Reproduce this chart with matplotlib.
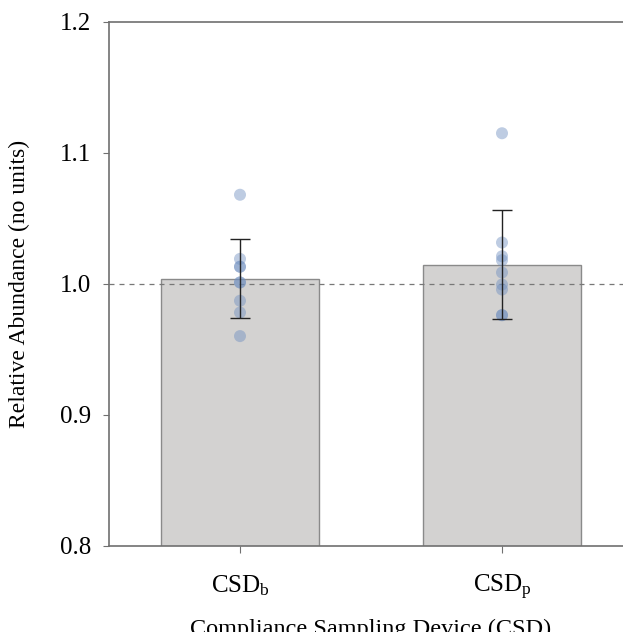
import numpy as np
import matplotlib
matplotlib.use('Agg')
import matplotlib.pyplot as plt

plt.rcParams.update({
    'font.family': 'serif', 'font.serif': ['Liberation Serif', 'DejaVu Serif'],
    'mathtext.fontset': 'custom', 'mathtext.rm': 'Liberation Serif',
    'mathtext.it': 'Liberation Serif:italic',
    'font.size': 18,
})

# data
devices = ['CSD$_\\mathregular{b}$', 'CSD$_\\mathregular{p}$']
means = [1.004, 1.0147]
sds = [0.030, 0.042]
pts_b = [1.068, 1.019, 1.013, 1.013, 1.001, 1.001, 0.987, 0.978, 0.960]
pts_p = [1.115, 1.0315, 1.021, 1.018, 1.0086, 0.9994, 0.9956, 0.976, 0.976]

fig = plt.figure(figsize=(6.23, 6.32), dpi=100)
ax = fig.add_axes([109 / 623, 1 - 545.5 / 632, 524 / 623, 523.5 / 632])

x = np.arange(len(devices))
ax.bar(x, means, width=0.6, bottom=0, color='#d3d2d1', edgecolor='#8a8a8a',
       linewidth=1.0, zorder=1)
ax.axhline(1.0, color='#777777', linestyle=(0, (4, 4)), linewidth=0.9, zorder=2)
for xi, pts in zip(x, [pts_b, pts_p]):
    ax.scatter([xi] * len(pts), pts, s=75, color='#6f8fc0', alpha=0.45,
               edgecolors='none', zorder=3)
ax.errorbar(x, means, yerr=sds, fmt='none', ecolor='#222222', elinewidth=1.0,
            capsize=7, capthick=1.0, zorder=4)

ax.set_xlim(-0.5, 1.5)
ax.set_ylim(0.8, 1.2)
ax.set_yticks([0.8, 0.9, 1.0, 1.1, 1.2])
ax.set_yticklabels(['0.8', '0.9', '1.0', '1.1', '1.2'])
ax.set_xticks(x)
ax.set_xticklabels(devices)
for side in ['left', 'bottom', 'top']:
    ax.spines[side].set_color('#707070')
    ax.spines[side].set_linewidth(1.2)
ax.spines['right'].set_visible(False)
ax.tick_params(axis='y', direction='out', length=4.5, color='#707070', pad=8.5)
ax.tick_params(axis='x', direction='out', length=5, color='#707070', pad=15)
ax.set_ylabel('Relative Abundance (no units)', fontsize=17, labelpad=21)
ax.set_xlabel('Compliance Sampling Device (CSD)', fontsize=17.5, labelpad=12)

fig.savefig('out.png', dpi=100)
